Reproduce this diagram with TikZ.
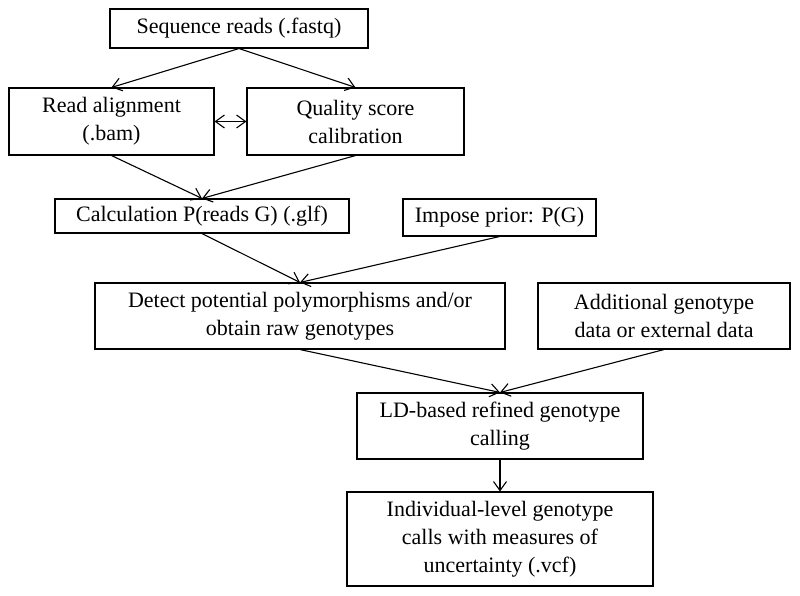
\documentclass[tikz,border=0pt]{standalone}
\usepackage{fontspec}
\setmainfont{Liberation Serif}
\usetikzlibrary{arrows.meta}
\tikzset{
  stage/.style={draw, line width=1.1pt, align=center, inner sep=2pt,
    font=\fontsize{22}{28}\selectfont},
  flow/.style={line width=1.1pt, ->},
  >={Straight Barb[length=9pt,width=13pt,line width=1.1pt]}
}
\begin{document}
\begin{tikzpicture}[x=1pt,y=-1pt]
    \useasboundingbox[fill=white] (0,0) rectangle (800,596);
    \node[stage, minimum width=258pt, minimum height=39pt] (reads) at (239,28.5) {Sequence reads (.fastq)};
    \node[stage, minimum width=205pt, minimum height=67pt] (align) at (111.5,121.5) {Read alignment\\(.bam)};
    \node[stage, minimum width=217pt, minimum height=67pt] (qual) at (355.5,121.5) {Quality score\\calibration};
    \node[stage, minimum width=294pt, minimum height=34pt] (calc) at (202,216) {Calculation P(reads G) (.glf)};
    \node[stage, minimum width=193pt, minimum height=37pt] (prior) at (499.5,217.5) {Impose prior: P(G)};
    \node[stage, minimum width=410pt, minimum height=66pt] (detect) at (300,316) {Detect potential polymorphisms and/or\\obtain raw genotypes};
    \node[stage, minimum width=252pt, minimum height=66pt] (extra) at (664,316) {Additional genotype\\data or external data};
    \node[stage, minimum width=286pt, minimum height=66pt] (refine) at (500,426) {LD-based refined genotype\\calling};
    \node[stage, minimum width=306pt, minimum height=94pt] (calls) at (500,539) {Individual-level genotype\\calls with measures of\\uncertainty (.vcf)};
    \draw[flow] (reads.south) -- (align.north);
    \draw[flow] (reads.south) -- (qual.north);
    \draw[flow, <->] (align.east) -- (qual.west);
    \draw[flow] (align.south) -- (calc.north);
    \draw[flow] (qual.south) -- (calc.north);
    \draw[flow] (calc.south) -- (detect.north);
    \draw[flow] (prior.south) -- (detect.north);
    \draw[flow] (detect.south) -- (refine.north);
    \draw[flow] (extra.south) -- (refine.north);
    \draw[flow] (refine.south) -- (calls.north);
  \end{tikzpicture}
\end{document}
